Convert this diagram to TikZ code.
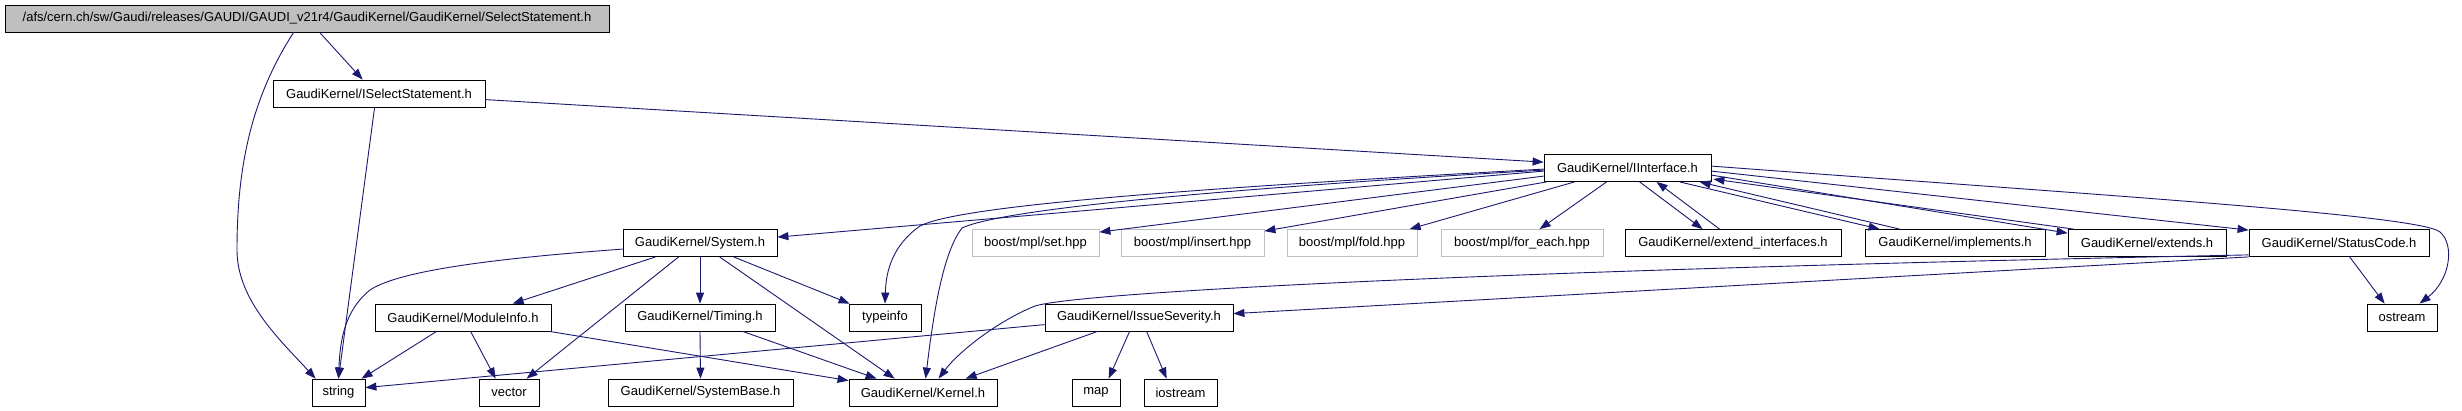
\documentclass[tikz,border=0pt]{standalone}
\usepackage{fontspec}
\setmainfont{Liberation Sans}
\usetikzlibrary{arrows.meta,calc}
\definecolor{edgeblue}{HTML}{191970}
\definecolor{topgray}{HTML}{BFBFBF}
\definecolor{extgray}{HTML}{BFBFBF}
\tikzset{
  box/.style={draw=black, line width=0.8pt, inner sep=0pt, minimum height=27pt, font=\fontsize{13}{15}\selectfont, fill=white},
  extbox/.style={box, draw=extgray},
  dep/.style={draw=edgeblue, line width=0.9pt, -{Triangle[length=11pt,width=8pt]}},
}
\begin{document}
\begin{tikzpicture}[x=1pt,y=-1pt]
\useasboundingbox (0,0) rectangle (2462,410);
\fill[white] (0,0) rectangle (2462,410);
% row 1
\node[box, fill=topgray, minimum width=604pt] (top) at (307,18.5) {/afs/cern.ch/sw/Gaudi/releases/GAUDI/GAUDI\_v21r4/GaudiKernel/GaudiKernel/SelectStatement.h};
% row 2
\node[box, minimum width=212pt] (iss) at (379,93.5) {GaudiKernel/ISelectStatement.h};
% row 3
\node[box, minimum width=167pt] (iint) at (1627.5,168) {GaudiKernel/IInterface.h};
% row 4
\node[box, minimum width=154pt] (sys) at (700,243) {GaudiKernel/System.h};
\node[extbox, minimum width=127pt] (set) at (1035.5,243) {boost/mpl/set.hpp};
\node[extbox, minimum width=143pt] (insert) at (1192.5,243) {boost/mpl/insert.hpp};
\node[extbox, minimum width=130pt] (fold) at (1352,243) {boost/mpl/fold.hpp};
\node[extbox, minimum width=162pt] (foreach) at (1522,243) {boost/mpl/for\_each.hpp};
\node[box, minimum width=216pt] (extif) at (1733,243) {GaudiKernel/extend\_interfaces.h};
\node[box, minimum width=180pt] (impl) at (1955,243) {GaudiKernel/implements.h};
\node[box, minimum width=158pt] (ext) at (2147,243) {GaudiKernel/extends.h};
\node[box, minimum width=180pt] (status) at (2339,243) {GaudiKernel/StatusCode.h};
% row 5
\node[box, minimum width=176pt] (modinfo) at (463,317.5) {GaudiKernel/ModuleInfo.h};
\node[box, minimum width=150pt] (timing) at (700,317.5) {GaudiKernel/Timing.h};
\node[box, minimum width=72pt] (typeinfo) at (885,317.5) {typeinfo};
\node[box, minimum width=188pt] (issue) at (1139,317.5) {GaudiKernel/IssueSeverity.h};
\node[box, minimum width=70pt] (ostream) at (2402,317.5) {ostream};
% row 6
\node[box, minimum width=53pt] (string) at (338.5,392.5) {string};
\node[box, minimum width=60pt] (vector) at (509,392.5) {vector};
\node[box, minimum width=185pt] (sysbase) at (700.5,392.5) {GaudiKernel/SystemBase.h};
\node[box, minimum width=148pt] (kernel) at (923,392.5) {GaudiKernel/Kernel.h};
\node[box, minimum width=48pt] (map) at (1096,392.5) {map};
\node[box, minimum width=73pt] (iostream) at (1180.5,392.5) {iostream};

% edges
\draw[dep] ($(top.south west)+(315,0)$) -- ($(iss.north west)+(90,0)$);
\draw[dep] ($(top.south west)+(289,0)$) .. controls (250,100) and (237,170) .. (237,250) .. controls (237,300) and (280,340) .. ($(string.north west)+(4,0)$);
\draw[dep] ($(iss.north east)+(0,20)$) -- ($(iint.north west)+(0,8)$);
\draw[dep] ($(iss.south west)+(102,0)$) -- (string.north);

\draw[dep] ($(iint.north west)+(0,17)$) -- ($(sys.north east)+(0,8)$);
\draw[dep] ($(iint.north west)+(0,15)$) .. controls (1200,188) and (960,205) .. (920,226) .. controls (893,245) and (886,270) .. (typeinfo.north);
\draw[dep] ($(iint.north west)+(0,16)$) .. controls (1200,190) and (1000,210) .. (962,228) .. controls (945,250) and (935,300) .. ($(kernel.north west)+(77,0)$);
\draw[dep] ($(iint.north west)+(0,22)$) -- ($(set.north east)+(0,3)$);
\draw[dep] ($(iint.south west)+(3,0)$) -- ($(insert.north east)+(0,2)$);
\draw[dep] ($(iint.south west)+(31,0)$) -- ($(fold.north west)+(123,0)$);
\draw[dep] ($(iint.south west)+(63,0)$) -- ($(foreach.north west)+(99,0)$);
\draw[dep] ($(iint.south west)+(96,0)$) -- ($(extif.north west)+(78,0)$);
\draw[dep] ($(extif.north west)+(95,0)$) -- ($(iint.south west)+(113,0)$);
\draw[dep] ($(iint.south west)+(136,0)$) -- ($(impl.north west)+(15,0)$);
\draw[dep] ($(impl.north west)+(35,0)$) -- ($(iint.south west)+(156,0)$);
\draw[dep] ($(iint.north east)+(0,21)$) -- ($(ext.north west)+(0,4)$);
\draw[dep] ($(ext.north west)+(6,0)$) -- ($(iint.north east)+(2,25)$);
\draw[dep] ($(iint.north east)+(0,17)$) -- ($(status.north west)+(0,1)$);
\draw[dep] ($(iint.north east)+(0,12)$) .. controls (2100,195) and (2420,215) .. (2440,232) .. controls (2455,245) and (2450,280) .. ($(ostream.north west)+(53,0)$);

\draw[dep] ($(status.south west)+(101,0)$) -- ($(ostream.north west)+(18,0)$);
\draw[dep] (status.south west) -- ($(issue.north east)+(0,10)$);
\draw[dep] ($(status.south west)+(0,-2)$) .. controls (1500,270) and (1080,292) .. (1035,306) .. controls (1000,320) and (960,350) .. ($(kernel.north west)+(90,0)$);

\draw[dep] ($(issue.north west)+(0,21)$) -- ($(string.north east)+(0,9)$);
\draw[dep] ($(issue.south west)+(53,0)$) -- ($(kernel.north west)+(117,0)$);
\draw[dep] ($(issue.south west)+(85,0)$) -- ($(map.north west)+(37,0)$);
\draw[dep] ($(issue.south west)+(102,0)$) -- ($(iostream.north west)+(23,0)$);

\draw[dep] ($(sys.north west)+(0,20)$) .. controls (500,258) and (400,270) .. (370,290) .. controls (345,310) and (340,340) .. (string.north);
\draw[dep] ($(sys.south west)+(33,0)$) -- ($(modinfo.north west)+(138,0)$);
\draw[dep] ($(sys.south west)+(56,0)$) -- ($(vector.north west)+(48,0)$);
\draw[dep] (sys.south) -- (timing.north);
\draw[dep] ($(sys.south west)+(97,0)$) -- ($(kernel.north west)+(46,0)$);
\draw[dep] ($(sys.south west)+(111,0)$) -- ($(typeinfo.north west)+(1,0)$);

\draw[dep] ($(modinfo.south west)+(62,0)$) -- ($(string.north west)+(50,0)$);
\draw[dep] ($(modinfo.south west)+(96,0)$) -- ($(vector.north west)+(17,0)$);
\draw[dep] ($(modinfo.south east)+(-2,0)$) -- ($(kernel.north west)+(0,2)$);

\draw[dep] (timing.south) -- (sysbase.north);
\draw[dep] ($(timing.south west)+(118,0)$) -- ($(kernel.north west)+(28,0)$);
\end{tikzpicture}
\end{document}
